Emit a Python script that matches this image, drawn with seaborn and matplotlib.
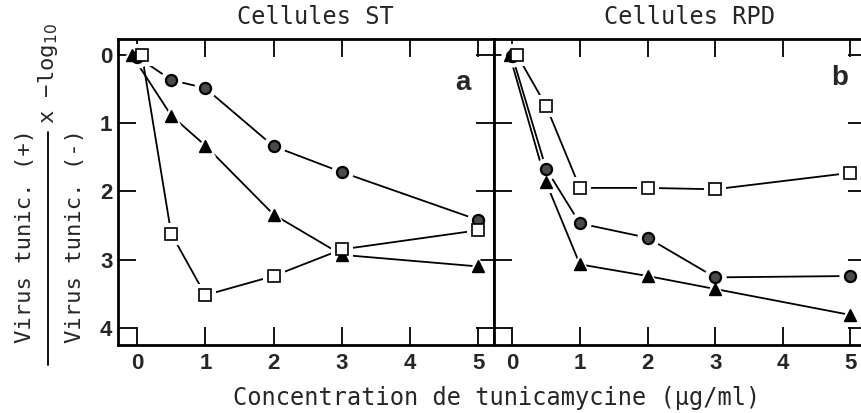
import numpy as np
import pandas as pd
import matplotlib
matplotlib.use("Agg")
import matplotlib.pyplot as plt
import seaborn as sns
from matplotlib.lines import Line2D

# ---------------- data ----------------
panel_titles = ["Cellules ST", "Cellules RPD"]
panel_letters = ["a", "b"]
x_ticks = [0, 1, 2, 3, 4, 5]
y_ticks = [0, 1, 2, 3, 4]

# panel a : Cellules ST
st_circle_x = [0, 0.5, 1, 2, 3, 5]
st_circle_y = [0.03, 0.37, 0.49, 1.34, 1.72, 2.42]
st_tri_x = [-0.08, 0.5, 1, 2, 3, 5]
st_tri_y = [0, 0.89, 1.33, 2.34, 2.93, 3.10]
st_sq_x = [0.07, 0.5, 1, 2, 3, 5]
st_sq_y = [0, 2.62, 3.52, 3.24, 2.85, 2.57]

# panel b : Cellules RPD
rpd_circle_x = [0, 0.5, 1, 2, 3, 5]
rpd_circle_y = [0.02, 1.67, 2.47, 2.68, 3.26, 3.24]
rpd_tri_x = [-0.04, 0.5, 1, 2, 3, 5]
rpd_tri_y = [0, 1.87, 3.07, 3.24, 3.43, 3.81]
rpd_sq_x = [0.07, 0.5, 1, 2, 3, 5]
rpd_sq_y = [0, 0.75, 1.95, 1.95, 1.97, 1.73]

x_label = "Concentration de tunicamycine (µg/ml)"
y_num = "Virus tunic. (+)"
y_den = "Virus tunic. (-)"
y_factor = "x −log$_{10}$"

# ---------------- style ----------------
sns.set_theme(style="ticks")
plt.rcParams["font.family"] = ["DejaVu Sans Mono", "DejaVu Sans"]
plt.rcParams["mathtext.fontset"] = "dejavusans"

mono = "DejaVu Sans Mono"
tickfont = "Liberation Sans"

fig = plt.figure(figsize=(8.61, 4.13), dpi=100)
W, H = 861, 413
ax1 = fig.add_axes([118 / W, 68 / H, 376 / W, 306 / H])
ax2 = fig.add_axes([494 / W, 68 / H, 372 / W, 306 / H])

series_sets = [
    [(st_circle_x, st_circle_y, "circle"), (st_tri_x, st_tri_y, "triangle"), (st_sq_x, st_sq_y, "square")],
    [(rpd_circle_x, rpd_circle_y, "circle"), (rpd_tri_x, rpd_tri_y, "triangle"), (rpd_sq_x, rpd_sq_y, "square")],
]
mstyle = {
    "circle": dict(marker="o", ms=8, mfc="#4a4a4a", mec="black", mew=1.6),
    "triangle": dict(marker="^", ms=8.5, mfc="black", mec="black", mew=1.0),
    "square": dict(marker="s", ms=8, mfc="white", mec="black", mew=1.2),
}

for ax, sets, title, letter, xlim, tx in zip(
    [ax1, ax2], series_sets, panel_titles, panel_letters,
    [(-0.28, 5.23), (-0.27, 5.23)], [(0.918, 0.856), (0.93, 0.873)]
):
    frames = []
    for xs, ys, name in sets:
        frames.append(pd.DataFrame({"conc": xs, "val": ys, "serie": name}))
    df = pd.concat(frames, ignore_index=True)
    sns.lineplot(data=df, x="conc", y="val", hue="serie", units="serie", estimator=None,
                 sort=False, palette={"circle": "black", "triangle": "black", "square": "black"},
                 linewidth=1.3, legend=False, ax=ax, zorder=2)
    for xs, ys, name in sets:
        st = mstyle[name]
        ax.plot(xs, ys, ls="none", marker=st["marker"], ms=st["ms"] + 8, mfc="white",
                mec="white", mew=0, zorder=3)
    for xs, ys, name in sets:
        ax.plot(xs, ys, ls="none", zorder=4, **mstyle[name])

    ax.set_xlim(*xlim)
    ax.set_ylim(4.25, -0.23)
    ax.set_xticks(x_ticks)
    ax.set_yticks(y_ticks)
    ax.tick_params(direction="in", length=13, width=1.3, top=True, right=True,
                   labelsize=16, color="black")
    ax.tick_params(axis="x", pad=6)
    ax.tick_params(axis="y", pad=4)
    for lab in ax.get_xticklabels() + ax.get_yticklabels():
        lab.set_fontfamily(tickfont)
        lab.set_fontweight("bold")
    for sp in ax.spines.values():
        sp.set_linewidth(2)
        sp.set_color("black")
        sp.set_visible(True)
    ax.set_xlabel("")
    ax.set_ylabel("")
    ax.text(tx[0], tx[1], letter, transform=ax.transAxes, ha="center", va="center",
            fontsize=20, fontweight="bold", fontfamily=tickfont)

ax2.tick_params(labelleft=False)

fig.text(315 / W, 1 - 17 / H, panel_titles[0], ha="center", va="center", fontsize=17, fontfamily=mono)
fig.text(690 / W, 1 - 17 / H, panel_titles[1], ha="center", va="center", fontsize=17, fontfamily=mono)
fig.text(497 / W, 1 - 398 / H, x_label, ha="center", va="center", fontsize=17, fontfamily=mono)

# y label as a fraction
fig.text(25 / W, 1 - 236 / H, y_num, rotation=90, ha="center", va="center", fontsize=16, fontfamily=mono)
fig.text(75 / W, 1 - 236 / H, y_den, rotation=90, ha="center", va="center", fontsize=16, fontfamily=mono)
fig.add_artist(Line2D([48 / W, 48 / W], [1 - 365 / H, 1 - 132 / H], transform=fig.transFigure,
                      color="black", lw=1.3))
fig.text(48 / W, 1 - 124 / H, y_factor, rotation=90, ha="center", va="bottom", fontsize=16, fontfamily=mono)

fig.savefig("out.png", dpi=100, facecolor="white")
